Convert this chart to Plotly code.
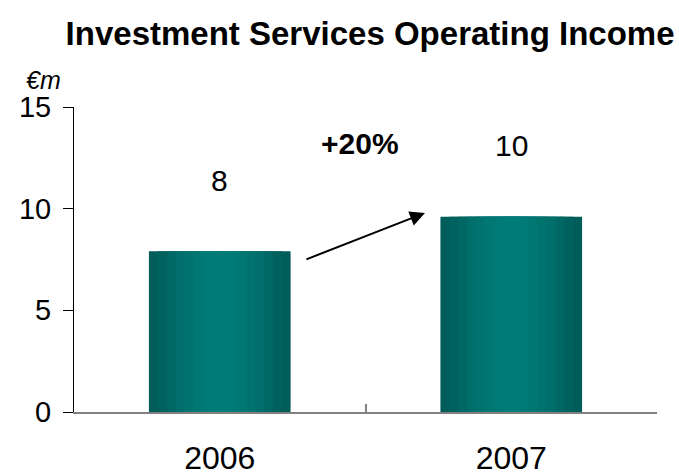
import plotly.graph_objects as go

# Operating income, EUR millions
years = ["2006", "2007"]
income = [7.9, 9.6]
growth_label = "+20%"
y_ticks = [0, 5, 10, 15]

fig = go.Figure()

# Cylinder-like shading: overlay progressively narrower, lighter bars
shades = ["#005d5a", "#00625f", "#006864", "#006e6a", "#00736f", "#007773", "#007a76", "#007c78"]
full_width = 0.486
for i, c in enumerate(shades):
    w = full_width * (1 - i / len(shades))
    fig.add_trace(go.Bar(
        x=years, y=income, width=w, marker=dict(color=c, line=dict(width=0)),
        hoverinfo="skip", showlegend=False,
    ))

# Value labels above each bar (category index used as x position)
for idx, v in enumerate(income):
    fig.add_annotation(x=idx, y=v, xref="x", yref="y", text=f"{v:.0f}",
                       showarrow=False, yshift=71, font=dict(size=30, color="black"))

# Growth arrow and label
fig.add_annotation(x=0.704, y=9.79, ax=0.292, ay=7.48, xref="x", yref="y",
                   axref="x", ayref="y", text="", showarrow=True,
                   arrowhead=2, arrowsize=1.5, arrowwidth=2, arrowcolor="black")
fig.add_annotation(x=0.48, y=13.2, xref="x", yref="y", text=f"<b>{growth_label}</b>",
                   showarrow=False, font=dict(size=30, color="black"))

# Unit label
fig.add_annotation(xref="paper", yref="paper", x=-0.053, y=1.09, xanchor="center",
                   yanchor="middle", text="<i>€m</i>", showarrow=False,
                   font=dict(size=25, color="black"))

fig.update_layout(
    barmode="overlay",
    width=679, height=475,
    margin=dict(l=74, r=22, t=107, b=63),
    paper_bgcolor="white", plot_bgcolor="white",
    font=dict(family="Liberation Sans, Arial, sans-serif", color="black"),
    title=dict(text="<b>Investment Services Operating Income</b>",
               x=0.545, xanchor="center", y=0.93, yanchor="middle",
               font=dict(size=33, color="black")),
)
fig.update_xaxes(
    type="category", range=[-0.5, 1.5], showline=True, linecolor="#808080", linewidth=2,
    ticks="inside", tickson="boundaries", ticklen=8, tickcolor="#808080", tickwidth=2,
    tickfont=dict(size=32), ticklabelstandoff=17, showgrid=False, zeroline=False,
    automargin=False,
)
fig.update_yaxes(
    range=[0, 15], tickvals=y_ticks, showline=True, linecolor="black", linewidth=1,
    ticks="outside", ticklen=10, tickcolor="black", tickfont=dict(size=29),
    ticklabelstandoff=6, showgrid=False, zeroline=False, automargin=False,
)

fig.write_html("out.html")
